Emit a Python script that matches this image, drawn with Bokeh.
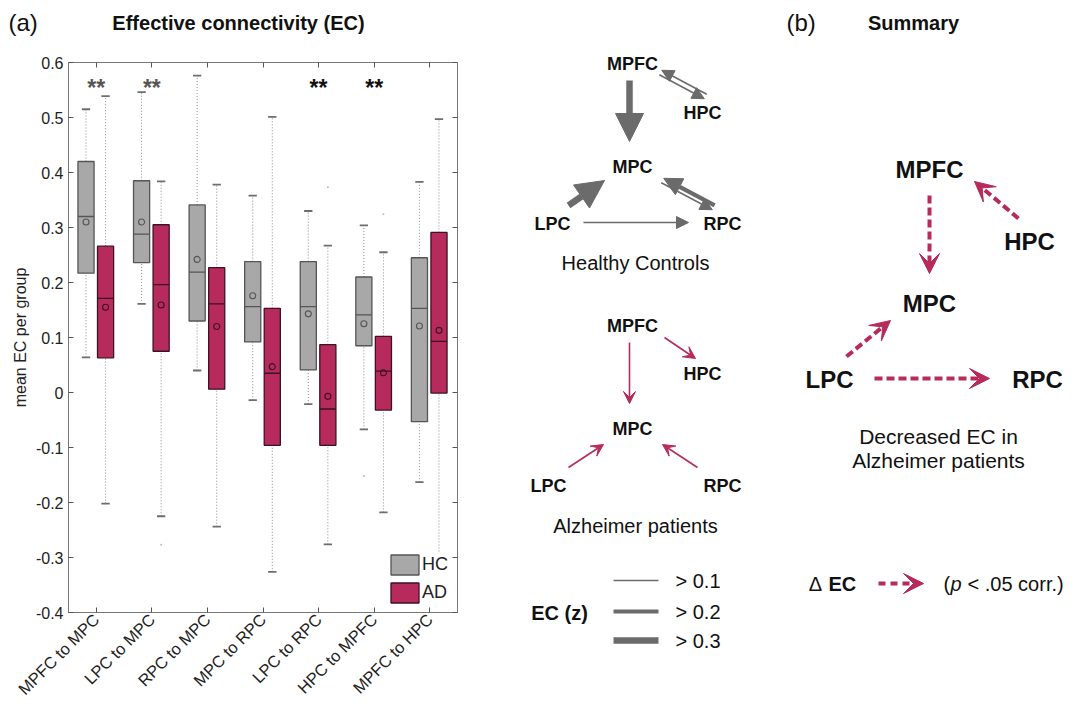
import math
from bokeh.plotting import figure
from bokeh.models import (Range1d, FixedTicker, LinearAxis, Legend, LegendItem,
                          Arrow, NormalHead, VeeHead)
from bokeh.layouts import row, column
from bokeh.embed import file_html
from bokeh.resources import INLINE
from bokeh.core.properties import value

# ---------------- data ----------------
connections = ["MPFC to MPC", "LPC to MPC", "RPC to MPC", "MPC to RPC",
               "LPC to RPC", "HPC to MPFC", "MPFC to HPC"]
groups = ["HC", "AD"]

hc_whisker_low = [0.064, 0.161, 0.040, -0.014, -0.021, -0.067, -0.163]
hc_q1 = [0.217, 0.236, 0.130, 0.092, 0.041, 0.085, -0.053]
hc_median = [0.320, 0.288, 0.219, 0.156, 0.156, 0.141, 0.153]
hc_q3 = [0.420, 0.385, 0.341, 0.238, 0.238, 0.210, 0.245]
hc_whisker_high = [0.515, 0.546, 0.576, 0.358, 0.330, 0.304, 0.383]
hc_mean = [0.310, 0.310, 0.242, 0.176, 0.143, 0.125, 0.121]

ad_whisker_low = [-0.202, -0.225, -0.244, -0.326, -0.276, -0.218, -0.360]
ad_q1 = [0.063, 0.075, 0.006, -0.096, -0.096, -0.032, -0.001]
ad_median = [0.171, 0.196, 0.161, 0.035, -0.030, 0.039, 0.093]
ad_q3 = [0.266, 0.305, 0.227, 0.153, 0.087, 0.102, 0.291]
ad_whisker_high = [0.539, 0.384, 0.378, 0.501, 0.267, 0.255, 0.497]
ad_mean = [0.155, 0.159, 0.120, 0.047, -0.007, 0.036, 0.113]

hc_outlier_index = [5]
hc_outlier_value = [-0.152]
ad_outlier_index = [1, 4, 5]
ad_outlier_value = [-0.277, 0.373, 0.324]

significant = [True, True, False, False, True, True, False]
y_ticks = [-0.4, -0.3, -0.2, -0.1, 0.0, 0.1, 0.2, 0.3, 0.4, 0.5, 0.6]
y_tick_labels = ["-0.4", "-0.3", "-0.2", "-0.1", "0", "0.1", "0.2", "0.3", "0.4", "0.5", "0.6"]
ec_thresholds = [0.1, 0.2, 0.3]

# ---------------- style ----------------
FONT = value("Liberation Sans")
HC_FILL = "#a8a8a8"
HC_LINE = "#555555"
AD_FILL = "#b62a5c"
AD_LINE = "#3d1222"
ARROW_GREY = "#6b6b6b"
TXT = "#111111"
star_colors = ["#555555", "#555555", TXT, TXT, TXT, TXT, TXT]

TOTAL_W, TOTAL_H = 1072, 710
HEAD_H = 40
W1 = 470
W2 = TOTAL_W - W1
H = TOTAL_H - HEAD_H


def bare(width, height, xr, yr):
    f = figure(width=width, height=height, x_range=Range1d(*xr), y_range=Range1d(*yr),
               output_backend="svg", toolbar_location=None, min_border=0,
               x_axis_type=None, y_axis_type=None)
    f.outline_line_color = None
    f.grid.visible = False
    f.title.visible = False
    f.frame_align = False
    return f


# ---------------- header ----------------
hdr = bare(TOTAL_W, HEAD_H, (0, TOTAL_W), (HEAD_H, 0))
hdr.text(x=[8, 786], y=[22, 22], text=["(a)", "(b)"], text_font=FONT, text_font_size="24px",
         text_color=TXT, text_align="left", text_baseline="middle")
hdr.text(x=[238, 913], y=[22, 22], text=["Effective connectivity (EC)", "Summary"], text_font=FONT,
         text_font_style="bold", text_font_size="20px", text_color=TXT,
         text_align="center", text_baseline="middle")

# ---------------- box plot ----------------
p1 = figure(width=W1, height=H, x_range=Range1d(0.5, 7.5), y_range=Range1d(-0.4, 0.6),
            output_backend="svg", toolbar_location=None,
            min_border_left=68, min_border_right=13, min_border_top=22,
            min_border_bottom=H - 22 - 550)
p1.frame_align = False
p1.grid.visible = False
p1.outline_line_color = "#777777"
p1.background_fill_color = "white"
p1.border_fill_color = "white"

xpos = list(range(1, len(connections) + 1))
hc_x = [x - 0.185 for x in xpos]
ad_x = [x + 0.167 for x in xpos]
BW = 0.29
CAP = 0.075

renderers = {}
for name, xs, wl, q1, med, q3, wh, mn, fill, line in [
        ("HC", hc_x, hc_whisker_low, hc_q1, hc_median, hc_q3, hc_whisker_high, hc_mean, HC_FILL, HC_LINE),
        ("AD", ad_x, ad_whisker_low, ad_q1, ad_median, ad_q3, ad_whisker_high, ad_mean, AD_FILL, AD_LINE)]:
    p1.segment(x0=xs, y0=q3, x1=xs, y1=wh, line_color="#8c8c8c", line_width=1, line_dash="1 2")
    p1.segment(x0=xs, y0=wl, x1=xs, y1=q1, line_color="#8c8c8c", line_width=1, line_dash="1 2")
    p1.segment(x0=[x - CAP for x in xs], y0=wh, x1=[x + CAP for x in xs], y1=wh,
               line_color="#6e6e6e", line_width=1.8)
    p1.segment(x0=[x - CAP for x in xs], y0=wl, x1=[x + CAP for x in xs], y1=wl,
               line_color="#6e6e6e", line_width=1.8)
    r = p1.vbar(x=xs, width=BW, top=q3, bottom=q1, fill_color=fill, line_color=line, line_width=1.3)
    renderers[name] = r
    p1.segment(x0=[x - BW / 2 for x in xs], y0=med, x1=[x + BW / 2 for x in xs], y1=med,
               line_color=line, line_width=1.3)
    p1.scatter(x=xs, y=mn, marker="circle", size=6, fill_color=None, line_color=line, line_width=1.1)

p1.scatter(x=[hc_x[i] for i in hc_outlier_index], y=hc_outlier_value, size=2,
           color="#bbbbbb", line_color=None)
p1.scatter(x=[ad_x[i] for i in ad_outlier_index], y=ad_outlier_value, size=2,
           color="#bbbbbb", line_color=None)

star_x = [xpos[i] for i in range(len(connections)) if significant[i]]
star_c = [star_colors[i] for i in range(len(connections)) if significant[i]]
p1.text(x=star_x, y=[0.554] * len(star_x), text=["**"] * len(star_x), text_color=star_c,
        text_font=FONT, text_font_style="bold", text_font_size="23px",
        text_align="center", text_baseline="alphabetic")

# axes
p1.xaxis.ticker = FixedTicker(ticks=xpos)
p1.xaxis.major_label_overrides = {x: c for x, c in zip(xpos, connections)}
p1.xaxis.major_label_orientation = math.pi / 4
p1.yaxis.ticker = FixedTicker(ticks=y_ticks)
p1.yaxis.major_label_overrides = {t: l for t, l in zip(y_ticks, y_tick_labels)}
p1.yaxis.axis_label = "mean EC per group"
p1.yaxis.axis_label_text_font_style = "normal"
p1.yaxis.axis_label_text_font_size = "16px"
p1.yaxis.axis_label_standoff = 4
for ax in (p1.xaxis[0], p1.yaxis[0]):
    ax.major_tick_in = 5
    ax.major_tick_out = 0
    ax.minor_tick_line_color = None
    ax.axis_line_color = "#777777"
    ax.major_tick_line_color = "#555555"
    ax.major_label_text_font = "Liberation Sans"
    ax.major_label_text_font_size = "16px"
    ax.major_label_text_color = "#222222"
    ax.axis_label_text_font = "Liberation Sans"
    ax.axis_label_text_color = "#222222"
p1.xaxis.major_label_text_font_size = "16.5px"
p1.yaxis.major_label_standoff = 5
p1.xaxis.major_label_standoff = 4

top_ax = LinearAxis(ticker=FixedTicker(ticks=xpos), major_label_text_font_size="0px",
                    major_tick_in=5, major_tick_out=0, minor_tick_line_color=None,
                    axis_line_color=None, major_tick_line_color="#555555", major_label_standoff=0)
right_ax = LinearAxis(ticker=FixedTicker(ticks=y_ticks), major_label_text_font_size="0px",
                      major_tick_in=5, major_tick_out=0, minor_tick_line_color=None,
                      axis_line_color=None, major_tick_line_color="#555555", major_label_standoff=0)
p1.add_layout(top_ax, "above")
p1.add_layout(right_ax, "right")

legend = Legend(items=[LegendItem(label=g, renderers=[renderers[g]]) for g in groups],
                location=(319, 7), glyph_width=35, glyph_height=25, label_height=20,
                label_standoff=0, spacing=3, padding=0, margin=0,
                border_line_color=None, background_fill_color="white", background_fill_alpha=1,
                label_text_font="Liberation Sans", label_text_font_size="18px",
                label_text_color="#222222")
p1.add_layout(legend, "center")

# ---------------- diagrams ----------------
p2 = bare(W2, H, (W1, W1 + W2), (TOTAL_H, HEAD_H))

# diagram layout: label centres and arrow attachment points (page pixels)
nodes_hc = {"MPFC": (632, 63), "HPC": (702, 112), "MPC": (632, 166), "LPC": (552, 223), "RPC": (722, 223)}
nodes_ad = {"MPFC": (632, 325), "HPC": (702, 373), "MPC": (632, 428), "LPC": (548, 485), "RPC": (722, 485)}
nodes_sum = {"MPFC": (929, 169), "HPC": (1029, 241), "MPC": (929, 303), "LPC": (829, 379), "RPC": (1037, 379)}

ports_hc = {("MPFC", "MPC"): ((629, 80), (629, 141)),
            ("MPFC", "HPC"): ((660, 72), (705, 96)),
            ("LPC", "MPC"): ((568, 205), (604, 180)),
            ("MPC", "RPC"): ((662, 180), (713, 207)),
            ("LPC", "RPC"): ((583, 222), (688, 222))}
ports_ad = {("MPFC", "MPC"): ((629, 342), (629, 403)),
            ("MPFC", "HPC"): ((664, 337), (695, 358)),
            ("LPC", "MPC"): ((568, 467), (603, 444)),
            ("MPC", "RPC"): ((662, 444), (697, 467)),
            ("LPC", "RPC"): ((583, 484), (688, 484))}
ports_sum = {("MPFC", "MPC"): ((929, 195), (929, 273)),
             ("MPFC", "HPC"): ((974, 181), (1018, 218)),
             ("LPC", "MPC"): ((846, 356), (890, 320)),
             ("MPC", "RPC"): ((960, 320), (1010, 355)),
             ("LPC", "RPC"): ((874, 378), (989, 378))}


def node_labels(nodes, size):
    names = list(nodes)
    p2.text(x=[nodes[n][0] for n in names], y=[nodes[n][1] for n in names], text=names,
            text_font=FONT, text_font_style="bold", text_font_size=size, text_color=TXT,
            text_align="center", text_baseline="middle")


def strength(v):
    return sum(1 for t in ec_thresholds if v > t)


widths = [0, 1.6, 4.2, 6.5]
heads = [0, 12, 18, 28]


def edge(ports, conn, offset):
    s, d = conn.split(" to ")
    if (s, d) in ports:
        (x0, y0), (x1, y1) = ports[(s, d)]
    else:
        (x1, y1), (x0, y0) = ports[(d, s)]
    dx, dy = x1 - x0, y1 - y0
    L = math.hypot(dx, dy)
    nx, ny = -dy / L * offset, dx / L * offset
    return x0 + nx, y0 + ny, x1 + nx, y1 + ny


def network(ports, means, color, head_cls):
    shown = [c for c, m in zip(connections, means) if m > ec_thresholds[0]]
    for c, m in zip(connections, means):
        if m <= ec_thresholds[0]:
            continue
        s, d = c.split(" to ")
        off = 2.5 if f"{d} to {s}" in shown else 0.0
        xs, ys, xe, ye = edge(ports, c, off)
        k = strength(m)
        p2.add_layout(Arrow(x_start=xs, y_start=ys, x_end=xe, y_end=ye,
                            line_color=color, line_width=widths[k],
                            end=head_cls(size=heads[k], fill_color=color, line_color=color, line_width=1)))


node_labels(nodes_hc, "18px")
network(ports_hc, hc_mean, ARROW_GREY, NormalHead)
node_labels(nodes_ad, "18px")
network(ports_ad, ad_mean, AD_FILL, VeeHead)

p2.text(x=[635, 635], y=[262, 525], text=["Healthy Controls", "Alzheimer patients"],
        text_font=FONT, text_font_size="20px", text_color=TXT, text_align="center", text_baseline="middle")

# EC legend
leg_y = [580, 611, 640]
p2.text(x=[559], y=[612], text=["EC (z)"], text_font=FONT, text_font_style="bold",
        text_font_size="20px", text_color=TXT, text_align="center", text_baseline="middle")
for i, t in enumerate(ec_thresholds):
    p2.segment(x0=[613], y0=[leg_y[i]], x1=[658], y1=[leg_y[i]], line_color=ARROW_GREY,
               line_width=widths[i + 1])
p2.text(x=[675] * 3, y=leg_y, text=[f"> {t}" for t in ec_thresholds], text_font=FONT,
        text_font_size="20px", text_color=TXT, text_align="left", text_baseline="middle")

# summary
node_labels(nodes_sum, "24px")
for c, sig in zip(connections, significant):
    if not sig:
        continue
    xs, ys, xe, ye = edge(ports_sum, c, 0)
    p2.add_layout(Arrow(x_start=xs, y_start=ys, x_end=xe, y_end=ye, line_color=AD_FILL,
                        line_width=4, line_dash="8 4",
                        end=VeeHead(size=20, fill_color=AD_FILL, line_color=AD_FILL, line_width=1)))

p2.text(x=[938, 938], y=[436, 460], text=["Decreased EC in", "Alzheimer patients"],
        text_font=FONT, text_font_size="21px", text_color=TXT, text_align="center", text_baseline="middle")

p2.text(x=[815], y=[583], text=["\u0394"], text_font=FONT, text_font_size="20px", text_color=TXT,
        text_align="center", text_baseline="middle")
p2.text(x=[828], y=[583], text=["EC"], text_font=FONT, text_font_style="bold", text_font_size="20px",
        text_color=TXT, text_align="left", text_baseline="middle")
p2.add_layout(Arrow(x_start=878, y_start=583, x_end=923, y_end=583, line_color=AD_FILL,
                    line_width=4, line_dash="7 5",
                    end=VeeHead(size=20, fill_color=AD_FILL, line_color=AD_FILL, line_width=1)))
p2.text(x=[943], y=[583], text=["("], text_font=FONT, text_font_size="20px", text_color=TXT,
        text_align="left", text_baseline="middle")
p2.text(x=[950], y=[583], text=["p"], text_font=FONT, text_font_style="italic", text_font_size="20px",
        text_color=TXT, text_align="left", text_baseline="middle")
p2.text(x=[967], y=[583], text=["< .05 corr.)"], text_font=FONT, text_font_size="20px",
        text_color=TXT, text_align="left", text_baseline="middle")

layout = column(hdr, row(p1, p2))
open("out.html", "w").write(file_html(layout, INLINE))
